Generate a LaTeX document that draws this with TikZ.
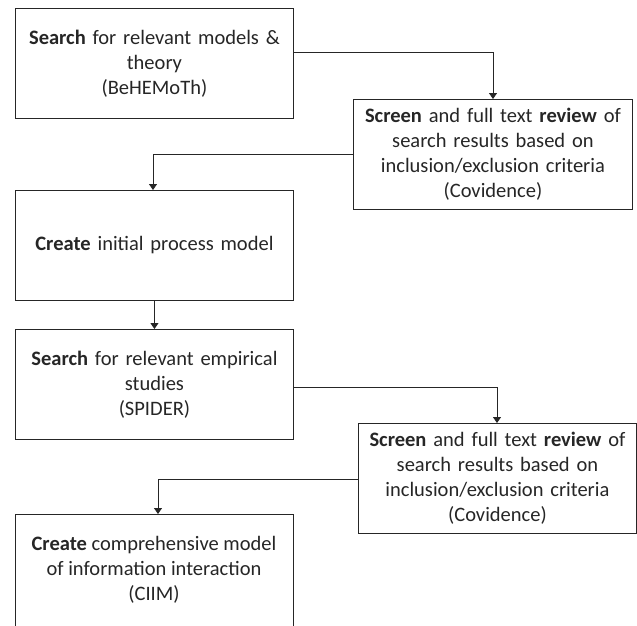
\documentclass[tikz,border=0pt]{standalone}
\usepackage{fontspec}
\setmainfont{Carlito}
\usetikzlibrary{arrows.meta}
\begin{document}
\begin{tikzpicture}[x=1pt,y=-1pt,
  box/.style={draw=black!85, line width=0.9pt, anchor=north west, minimum width=278pt, minimum height=110pt, inner sep=0pt, align=center, text width=274pt, font=\fontsize{20.5}{25}\selectfont, text=black!85},
  conn/.style={draw=black!85, line width=0.9pt, -{Triangle[length=6pt,width=8pt]}}]
\useasboundingbox[fill=white] (0,0) rectangle (637,625);
\node[box] (b1) at (15,8) {\textbf{Search} for relevant models \&\\theory\\(BeHEMoTh)};
\node[box, minimum width=279pt] (b2) at (353,99) {\textbf{Screen} and full text \textbf{review} of\\search results based on\\inclusion/exclusion criteria\\(Covidence)};
\node[box] (b3) at (15,190) {\textbf{Create} initial process model};
\node[box] (b4) at (15,329) {\textbf{Search} for relevant empirical\\studies\\(SPIDER)};
\node[box] (b5) at (358,423) {\textbf{Screen} and full text \textbf{review} of\\search results based on\\inclusion/exclusion criteria\\(Covidence)};
\node[box, minimum height=115pt] (b6) at (15,514) {};
\node[align=center, font=\fontsize{20.5}{25}\selectfont, text=black!85] (t6) at (154,570) {\textbf{Create} comprehensive model\\of information interaction\\(CIIM)};
\coordinate (c1) at (493,52);
\coordinate (c2) at (153,154);
\coordinate (c4) at (497,387);
\coordinate (c5) at (158,479);
\draw[conn] (b1.east |- c1) -- (c1) -- (c1 |- b2.north);
\draw[conn] (b2.west |- c2) -- (c2) -- (c2 |- b3.north);
\draw[conn] (b3.south) -- (b4.north);
\draw[conn] (b4.east |- c4) -- (c4) -- (c4 |- b5.north);
\draw[conn] (b5.west |- c5) -- (c5) -- (c5 |- b6.north);
\end{tikzpicture}
\end{document}
